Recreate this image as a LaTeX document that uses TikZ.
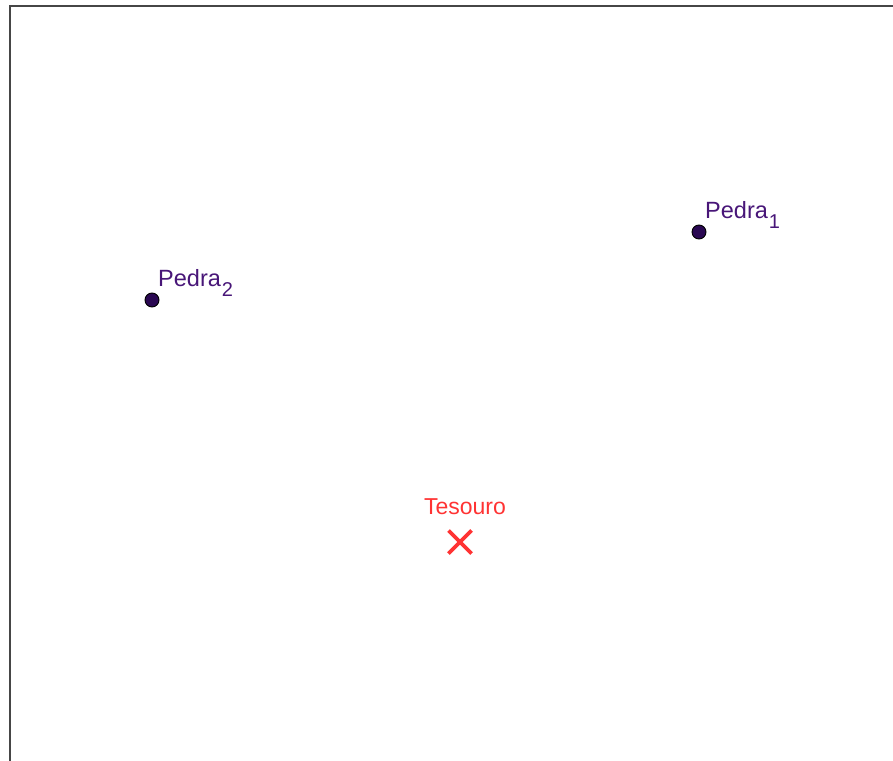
\documentclass[tikz,border=0pt]{standalone}
\usepackage{fontspec}
\setmainfont{Liberation Sans}
\usetikzlibrary{calc}
\definecolor{ptfill}{RGB}{42,8,82}
\definecolor{ptlabel}{RGB}{72,22,120}
\definecolor{treasure}{RGB}{255,51,51}
\definecolor{frame}{RGB}{70,70,70}
\tikzset{
  pt/.style={circle,fill=ptfill,draw=black,line width=0.9bp,inner sep=0pt,minimum size=14bp},
  ptlab/.style={text=ptlabel,font=\fontsize{23.5bp}{28bp}\selectfont,inner sep=0pt,anchor=base west},
  treslab/.style={text=treasure,font=\fontsize{23bp}{28bp}\selectfont,inner sep=0pt,anchor=base},
  crossline/.style={draw=treasure,line width=3.6bp}
}
\newcommand{\sub}[1]{\kern1bp\raisebox{-10bp}{\fontsize{20bp}{22bp}\selectfont #1}}
\begin{document}
\begin{tikzpicture}[x=1bp,y=-1bp]
\useasboundingbox (0,0) rectangle (893,761);
\draw[frame,line width=1.4bp] (893,6) -- (10,6) -- (10,761);
\node[pt] (p1) at (699,232) {};
\node[pt] (p2) at (152,300) {};
\node[ptlab] (l1) at (705,218) {Pedra\sub{1}};
\node[ptlab] (l2) at (158,286) {Pedra\sub{2}};
\coordinate (t) at (460,542);
\draw[crossline] ($(t)+(-11.5,-11.5)$) -- ($(t)+(11.5,11.5)$);
\draw[crossline] ($(t)+(-11.5,11.5)$) -- ($(t)+(11.5,-11.5)$);
\node[treslab] (lt) at (465,514) {Tesouro};
\end{tikzpicture}
\end{document}
